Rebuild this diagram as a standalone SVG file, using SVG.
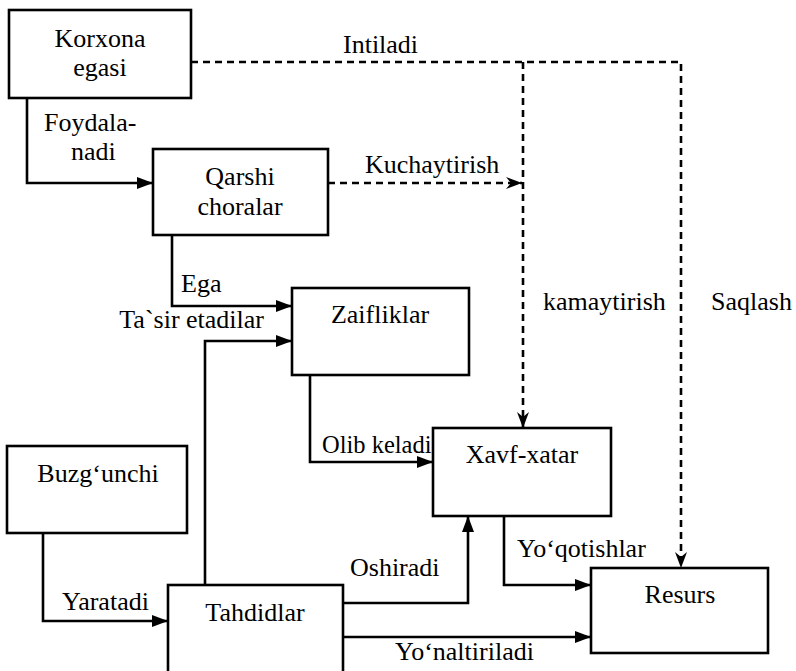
<svg xmlns="http://www.w3.org/2000/svg" width="796" height="671" viewBox="0 0 796 671">
  <style>
    .box { fill: #fff; stroke: #000; stroke-width: 2.6; }
    .t { font-family: 'Liberation Serif', 'DejaVu Serif', serif; font-size: 26px; fill: #000; }
    .c { text-anchor: middle; }
    .e { text-anchor: end; }
    .sm { font-size: 24.5px; }
    .ln { fill: none; stroke: #000; stroke-width: 2.6; }
    .ds { fill: none; stroke: #000; stroke-width: 2.6; stroke-dasharray: 7 5; }
  </style>
  <defs>
    <marker id="arr" markerUnits="userSpaceOnUse" markerWidth="18" markerHeight="14" refX="16" refY="6" orient="auto">
      <path d="M0,0 L16,6 L0,12 Z" fill="#000"/>
    </marker>
    <marker id="stealth" markerUnits="userSpaceOnUse" markerWidth="18" markerHeight="14" refX="16" refY="6" orient="auto">
      <path d="M0,0 L16,6 L0,12 L5,6 Z" fill="#000"/>
    </marker>
  </defs>

  <rect width="796" height="671" fill="#fff"/>

  <!-- connectors -->
  <g id="connectors">
    <path class="ln" d="M27,98 V183 H153" marker-end="url(#arr)"/>
    <path class="ds" d="M191,62 H681 V568" marker-end="url(#stealth)"/>
    <path class="ds" d="M523,62 V428" marker-end="url(#stealth)"/>
    <path class="ds" d="M328,183 H522" marker-end="url(#stealth)"/>
    <path class="ln" d="M172,235 V306 H292" marker-end="url(#arr)"/>
    <path class="ln" d="M205,585 V341 H292" marker-end="url(#arr)"/>
    <path class="ln" d="M310,375 V462 H433" marker-end="url(#arr)"/>
    <path class="ln" d="M43,533 V621 H168" marker-end="url(#arr)"/>
    <path class="ln" d="M343,603 H468 V516" marker-end="url(#arr)"/>
    <path class="ln" d="M343,637 H591" marker-end="url(#arr)"/>
    <path class="ln" d="M504,516 V585 H591" marker-end="url(#arr)"/>

    <text class="t" x="44" y="131">Foydala-</text>
    <text class="t" x="71" y="160">nadi</text>
    <text class="t" x="343" y="53">Intiladi</text>
    <text class="t" x="365" y="173">Kuchaytirish</text>
    <text class="t" x="181" y="292">Ega</text>
    <text class="t e" x="264" y="328">Ta`sir etadilar</text>
    <text class="t" x="543" y="310">kamaytirish</text>
    <text class="t" x="711" y="310">Saqlash</text>
    <text class="t sm" x="322" y="453">Olib keladi</text>
    <text class="t" x="350" y="576">Oshiradi</text>
    <text class="t" x="517" y="557">Yo‘qotishlar</text>
    <text class="t" x="62" y="610">Yaratadi</text>
    <text class="t" x="395" y="660">Yo‘naltiriladi</text>
  </g>

  <!-- nodes -->
  <g id="korxona">
    <rect class="box" x="9" y="10" width="182" height="88"/>
    <text class="t c" x="100" y="47">Korxona</text>
    <text class="t c" x="100" y="76">egasi</text>
  </g>
  <g id="qarshi">
    <rect class="box" x="153" y="149" width="175" height="86"/>
    <text class="t c" x="240" y="185">Qarshi</text>
    <text class="t c" x="240" y="215">choralar</text>
  </g>
  <g id="zaifliklar">
    <rect class="box" x="292" y="288" width="177" height="87"/>
    <text class="t c" x="380" y="323">Zaifliklar</text>
  </g>
  <g id="xavf">
    <rect class="box" x="433" y="428" width="178" height="88"/>
    <text class="t c" x="522" y="463">Xavf-xatar</text>
  </g>
  <g id="buzgunchi">
    <rect class="box" x="7" y="446" width="180" height="87"/>
    <text class="t c" x="98" y="482">Buzg‘unchi</text>
  </g>
  <g id="tahdidlar">
    <rect class="box" x="168" y="585" width="175" height="95"/>
    <text class="t c" x="255" y="621">Tahdidlar</text>
  </g>
  <g id="resurs">
    <rect class="box" x="591" y="568" width="177" height="85"/>
    <text class="t c" x="680" y="603">Resurs</text>
  </g>
</svg>
